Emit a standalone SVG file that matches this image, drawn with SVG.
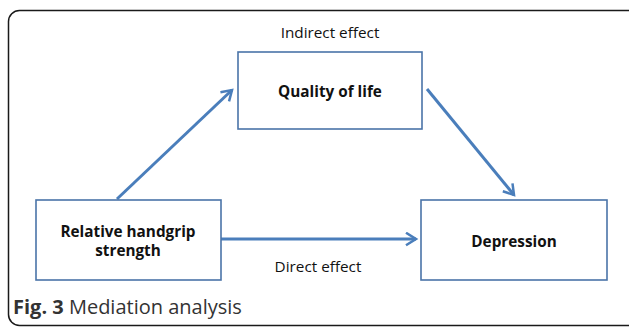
<svg xmlns="http://www.w3.org/2000/svg" width="629" height="327" viewBox="0 0 629 327">
  <style>
    .box { fill: #ffffff; stroke: #4a74a8; stroke-width: 1.6; }
    .lbl { font-family: "Open Sans", "Noto Sans", sans-serif; font-size: 15.3px; fill: #111; text-anchor: middle; }
    .bold { font-weight: bold; }
    .link { stroke: #4a7ebb; stroke-width: 3; fill: none; marker-end: url(#chev); }
  </style>
  <defs>
    <marker id="chev" viewBox="0 0 12 12" refX="10" refY="6" markerWidth="5" markerHeight="5" orient="auto" markerUnits="strokeWidth">
      <path d="M2,1 L10,6 L2,11" fill="none" stroke="#4a7ebb" stroke-width="2"/>
    </marker>
  </defs>
  <!-- figure frame -->
  <rect x="8.5" y="10.5" width="640" height="315" rx="11" fill="#ffffff" stroke="#1a1a1a" stroke-width="1.5"/>
  <text class="lbl" x="330" y="38">Indirect effect</text>
  <g id="connectors">
    <line class="link" x1="117" y1="199" x2="232" y2="90"/>
    <line class="link" x1="427" y1="89" x2="514" y2="195"/>
    <line class="link" x1="221" y1="239" x2="416" y2="239"/>
  </g>
  <g id="quality">
    <rect class="box" x="238" y="52" width="184" height="77"/>
    <text class="lbl bold" x="330" y="97">Quality of life</text>
  </g>
  <g id="handgrip">
    <rect class="box" x="36" y="200" width="185" height="80"/>
    <text class="lbl bold" x="128" y="237">Relative handgrip</text>
    <text class="lbl bold" x="128" y="256">strength</text>
  </g>
  <g id="depression">
    <rect class="box" x="421" y="200" width="186" height="80"/>
    <text class="lbl bold" x="514" y="247">Depression</text>
  </g>
  <text class="lbl" x="318" y="272">Direct effect</text>
  <text x="13" y="314" font-family="Open Sans, Noto Sans, sans-serif" font-size="20" fill="#333"><tspan font-weight="bold">Fig. 3</tspan> Mediation analysis</text>
</svg>
